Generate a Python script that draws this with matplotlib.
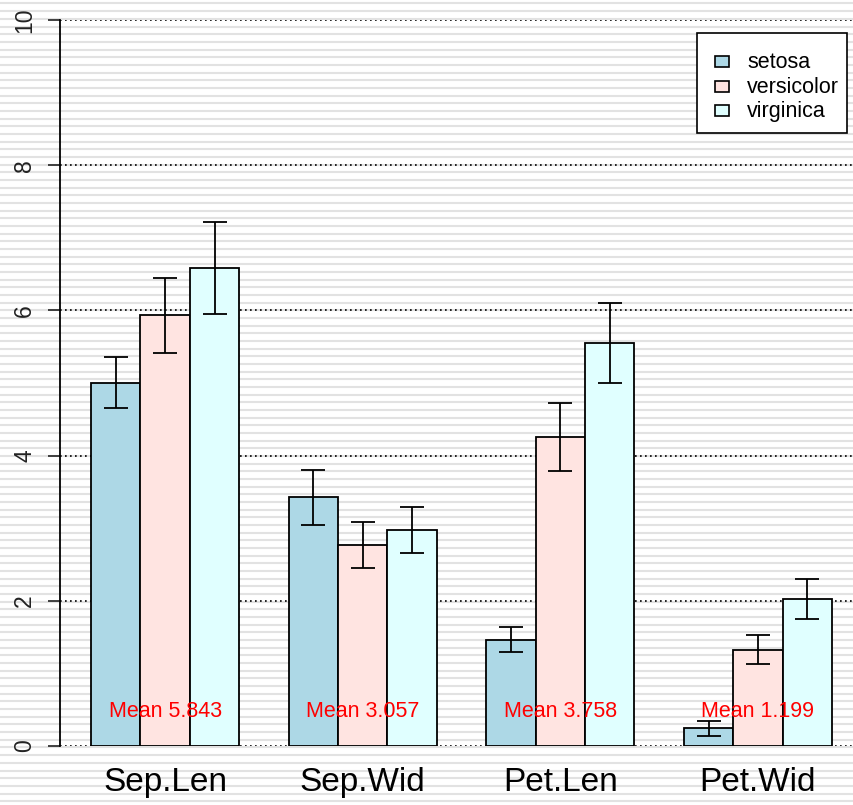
import numpy as np
import matplotlib
matplotlib.use("Agg")
import matplotlib.pyplot as plt
from matplotlib.patches import Rectangle

plt.rcParams["font.family"] = ["Liberation Sans", "DejaVu Sans"]

# iris: per-species means and standard deviations of the four measures
measures = ["Sep.Len", "Sep.Wid", "Pet.Len", "Pet.Wid"]
species = ["setosa", "versicolor", "virginica"]
means = {
    "setosa":     [5.006, 3.428, 1.462, 0.246],
    "versicolor": [5.936, 2.770, 4.260, 1.326],
    "virginica":  [6.588, 2.974, 5.552, 2.026],
}
sds = {
    "setosa":     [0.352, 0.379, 0.174, 0.105],
    "versicolor": [0.516, 0.314, 0.470, 0.198],
    "virginica":  [0.636, 0.322, 0.552, 0.275],
}
overall = [5.843, 3.057, 3.758, 1.199]
colors = {"setosa": "#ADD8E6", "versicolor": "#FFE4E1", "virginica": "#E0FFFF"}

W, H = 854, 805
fig = plt.figure(figsize=(W / 100, H / 100), dpi=100)
fig.patch.set_facecolor("white")

def pixel_axes(z):
    a = fig.add_axes([0, 0, 1, 1], zorder=z)
    a.set_xlim(0, W); a.set_ylim(H, 0); a.axis("off")
    a.patch.set_alpha(0)
    return a

# striped backdrop over the whole device
bg = pixel_axes(-10)
for yy in np.arange(3.5, H, 7.67):
    bg.axhline(yy, color="#e2e2e2", lw=1.5)

ax = fig.add_axes([60 / W, 1 - 746 / H, (W - 60) / W, (746 - 20) / H])
ax.patch.set_alpha(0)
ax.set_xlim(0.372, 16.445)
ax.set_ylim(0, 10)

for k, sp in enumerate(species):
    lefts = np.arange(len(measures)) * 4 + 1 + k
    ax.bar(lefts, means[sp], width=1, align="edge", color=colors[sp],
           edgecolor="black", lw=1.3, zorder=3)
    ax.errorbar(lefts + 0.5, means[sp], yerr=sds[sp], fmt="none", ecolor="black",
                elinewidth=1.3, capsize=8.7, capthick=1.3, zorder=4)

centers = np.arange(len(measures)) * 4 + 2.5
for c, m in zip(centers, overall):
    ax.text(c, 0.47, f"Mean {m:.3f}", color="red", fontsize=15.5,
            ha="center", va="center", zorder=5)

for s in ["top", "right", "bottom"]:
    ax.spines[s].set_visible(False)
ax.spines["left"].set_linewidth(1.3)
ax.spines["left"].set_bounds(0, 10)

ax.set_yticks([0, 2, 4, 6, 8, 10])
ax.set_yticklabels(["0", "2", "4", "6", "8", "10"], rotation=90, va="center", fontsize=16.5)
ax.tick_params(axis="y", length=8.6, width=1.2, pad=8.5, colors="#222222")
for y in [0, 2, 4, 6, 8, 10]:
    ax.axhline(y, color="black", lw=1.2, ls=(0, (1, 2)), zorder=1)

ax.set_xticks(centers)
ax.set_xticklabels(measures, fontsize=24)
ax.tick_params(axis="x", length=0, pad=15)

# legend box in pixel units, above the plot
lg = pixel_axes(10)
lg.add_patch(Rectangle((697, 33), 150, 100, facecolor="white", edgecolor="black", lw=1.2))
for i, sp in enumerate(species):
    yc = 62 + i * 24.5
    lg.add_patch(Rectangle((715, yc - 5.5), 14, 11, facecolor=colors[sp], edgecolor="black", lw=1.2))
    lg.text(747, yc + 1, sp, fontsize=15.5, ha="left", va="center")

fig.savefig("out.png", dpi=100)
